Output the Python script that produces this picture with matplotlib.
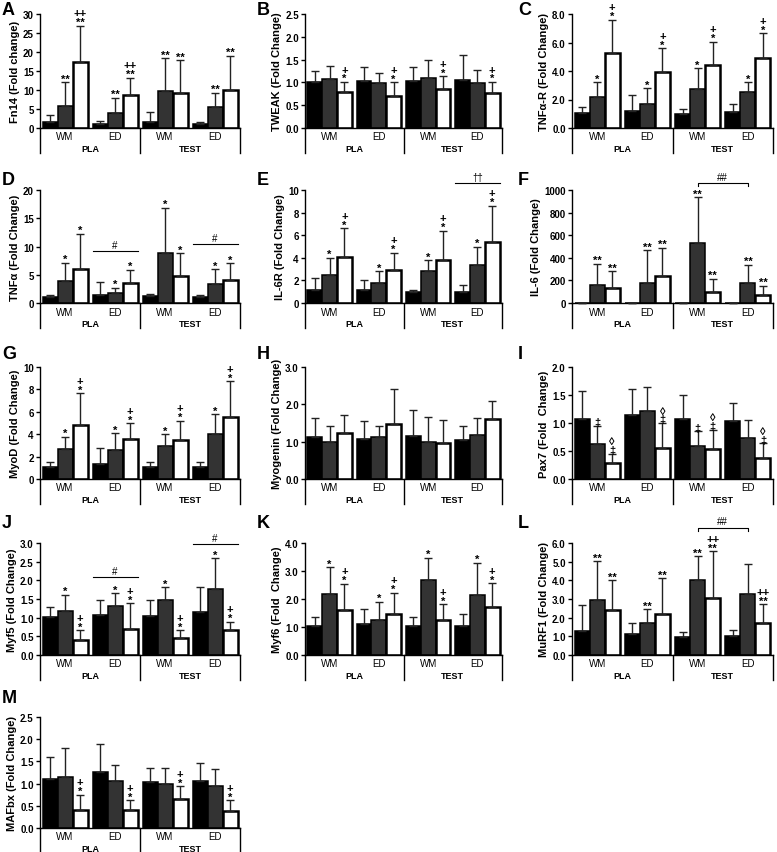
import numpy as np
import matplotlib
matplotlib.use('Agg')
import matplotlib.pyplot as plt

plt.rcParams['font.family'] = ['Liberation Sans', 'DejaVu Sans']

W, H = 777, 853

groups = ['WM', 'ED', 'WM', 'ED']
conditions = ['PLA', 'TEST']
bar_colors = ['#000000', '#333333', '#ffffff']

# means and SDs: rows = WM-PLA, ED-PLA, WM-TEST, ED-TEST; cols = 3 bars
fn14_mean = [[1.5, 5.9, 17.5], [1.06, 4.0, 8.6], [1.6, 9.7, 9.3], [1.0, 5.5, 9.9]]
fn14_sd = [[1.9, 6.2, 9.4], [0.84, 4.0, 4.6], [2.6, 8.7, 8.6], [0.6, 3.8, 9.1]]
fn14_marks = ['', '**', '++\n**', '', '**', '++\n**', '', '**', '**', '', '**', '**']

tweak_mean = [[1.0, 1.07, 0.80], [1.04, 0.98, 0.71], [1.04, 1.10, 0.86], [1.05, 0.99, 0.77]]
tweak_sd = [[0.25, 0.30, 0.21], [0.29, 0.23, 0.29], [0.29, 0.39, 0.27], [0.55, 0.29, 0.24]]
tweak_marks = ['', '', '+\n*'] * 4

tnfr_mean = [[1.05, 2.2, 5.25], [1.2, 1.7, 3.95], [1.0, 2.75, 4.45], [1.15, 2.55, 4.9]]
tnfr_sd = [[0.4, 1.0, 2.35], [1.15, 1.1, 1.65], [0.35, 1.45, 1.6], [0.55, 0.65, 1.75]]
tnfr_marks = ['', '*', '+\n*'] * 4

tnfa_mean = [[1.0, 3.9, 6.1], [1.4, 1.8, 3.5], [1.2, 8.9, 4.85], [1.0, 3.4, 4.1]]
tnfa_sd = [[0.5, 3.2, 6.2], [2.3, 0.9, 2.4], [0.45, 8.0, 3.95], [0.35, 2.6, 2.9]]
tnfa_marks = ['', '*', '*'] * 4

il6r_mean = [[1.15, 2.5, 4.1], [1.15, 1.8, 2.9], [0.95, 2.8, 3.83], [1.0, 3.4, 5.4]]
il6r_sd = [[1.05, 1.5, 2.5], [0.9, 1.0, 1.55], [0.2, 0.97, 2.57], [0.55, 1.6, 3.2]]
il6r_marks = ['', '*', '+\n*'] * 4

il6_mean = [[1, 160, 134], [1, 175, 243], [1, 534, 95], [1, 175, 74]]
il6_sd = [[0, 187, 145], [0, 290, 247], [0, 404, 119], [0, 163, 80]]
il6_marks = ['', '**', '**'] * 4

myod_mean = [[1.04, 2.64, 4.8], [1.3, 2.6, 3.56], [1.04, 2.97, 3.47], [1.04, 4.0, 5.58]]
myod_sd = [[0.51, 1.13, 2.85], [1.43, 1.5, 1.44], [0.44, 1.03, 1.73], [0.51, 1.8, 3.17]]
myod_marks = ['', '*', '+\n*'] * 4

myog_mean = [[1.12, 0.98, 1.22], [1.07, 1.12, 1.46], [1.14, 1.0, 0.97], [1.05, 1.18, 1.61]]
myog_sd = [[0.52, 0.43, 0.5], [0.48, 0.29, 0.94], [0.71, 0.67, 0.61], [0.38, 0.45, 0.48]]
myog_marks = [''] * 12

pax7_mean = [[1.07, 0.63, 0.28], [1.15, 1.21, 0.56], [1.07, 0.59, 0.53], [1.03, 0.74, 0.38]]
pax7_sd = [[0.51, 0.32, 0.17], [0.46, 0.43, 0.44], [0.43, 0.26, 0.35], [0.32, 0.32, 0.26]]
pax7_marks = ['', '\u2021', '\u25ca\n\u2021', '', '', '\u25ca\n\u2021',
              '', '\u2021', '\u25ca\n\u2021', '', '', '\u25ca\n\u2021']

myf5_mean = [[1.02, 1.18, 0.40], [1.07, 1.31, 0.70], [1.04, 1.47, 0.46], [1.15, 1.78, 0.67]]
myf5_sd = [[0.27, 0.44, 0.27], [0.4, 0.35, 0.68], [0.43, 0.34, 0.21], [0.67, 0.81, 0.22]]
myf5_marks = ['', '*', '+\n*'] * 4

myf6_mean = [[1.02, 2.19, 1.59], [1.11, 1.26, 1.47], [1.02, 2.67, 1.26], [1.02, 2.14, 1.71]]
myf6_sd = [[0.33, 0.94, 0.96], [0.55, 0.64, 0.76], [0.34, 0.81, 0.55], [0.43, 1.16, 0.86]]
myf6_marks = ['', '*', '+\n*'] * 4

murf_mean = [[1.29, 2.94, 2.4], [1.11, 1.74, 2.2], [0.99, 4.0, 3.05], [1.0, 3.27, 1.74]]
murf_sd = [[1.4, 2.09, 1.6], [0.63, 0.72, 1.9], [0.25, 1.3, 2.5], [0.32, 1.61, 0.98]]
murf_marks = ['', '**', '**', '', '**', '**', '', '**', '++\n**', '', '', '++\n**']

mafbx_mean = [[1.10, 1.15, 0.40], [1.26, 1.06, 0.40], [1.04, 1.0, 0.65], [1.05, 0.94, 0.38]]
mafbx_sd = [[0.5, 0.65, 0.35], [0.64, 0.36, 0.23], [0.31, 0.36, 0.29], [0.42, 0.39, 0.24]]
mafbx_marks = ['', '', '+\n*'] * 4

# horizontal lines over a group: (group, y, label)
tnfa_lines = [(1, 9.2, '#'), (3, 10.4, '#')]
il6r_lines = [(3, 10.6, '\u2020\u2020')]
myf5_lines = [(1, 2.09, '#'), (3, 2.97, '#')]
# brackets between gray bars: (x0, x1, y, label)
il6_bracket = (2, 3, 1059, '##')
murf_bracket = (2, 3, 6.82, '##')

panels = [
    ('A', 'Fn14 (Fold change)', fn14_mean, fn14_sd, fn14_marks, np.arange(0, 31, 5), '%d', 0, 0, [], None),
    ('B', 'TWEAK (Fold Change)', tweak_mean, tweak_sd, tweak_marks, np.arange(0, 2.51, 0.5), '%.1f', 1, 0, [], None),
    ('C', 'TNF\u03b1-R (Fold Change)', tnfr_mean, tnfr_sd, tnfr_marks, np.arange(0, 8.1, 2), '%.1f', 2, 0, [], None),
    ('D', 'TNF\u03b1 (Fold Change)', tnfa_mean, tnfa_sd, tnfa_marks, np.arange(0, 21, 5), '%d', 0, 1, tnfa_lines, None),
    ('E', 'IL-6R (Fold Change)', il6r_mean, il6r_sd, il6r_marks, np.arange(0, 11, 2), '%d', 1, 1, il6r_lines, None),
    ('F', 'IL-6 (Fold Change)', il6_mean, il6_sd, il6_marks, np.arange(0, 1001, 200), '%d', 2, 1, [], il6_bracket),
    ('G', 'MyoD (Fold Change)', myod_mean, myod_sd, myod_marks, np.arange(0, 11, 2), '%d', 0, 2, [], None),
    ('H', 'Myogenin (Fold Change)', myog_mean, myog_sd, myog_marks, np.arange(0, 3.1, 1), '%.1f', 1, 2, [], None),
    ('I', 'Pax7 (Fold  Change)', pax7_mean, pax7_sd, pax7_marks, np.arange(0, 2.01, 0.5), '%.1f', 2, 2, [], None),
    ('J', 'Myf5 (Fold Change)', myf5_mean, myf5_sd, myf5_marks, np.arange(0, 3.01, 0.5), '%.1f', 0, 3, myf5_lines, None),
    ('K', 'Myf6 (Fold  Change)', myf6_mean, myf6_sd, myf6_marks, np.arange(0, 4.1, 1), '%.1f', 1, 3, [], None),
    ('L', 'MuRF1 (Fold Change)', murf_mean, murf_sd, murf_marks, np.arange(0, 6.1, 1), '%.1f', 2, 3, [], murf_bracket),
    ('M', 'MAFbx (Fold Change)', mafbx_mean, mafbx_sd, mafbx_marks, np.arange(0, 2.51, 0.5), '%.1f', 0, 4, [], None),
]

col_x = [(40, 240), (305, 502), (572, 773)]
row_y = [(15, 129), (191, 304), (368, 480), (544, 656), (718, 829)]
letter_x = [2, 257, 518]
letter_y = [2, 172, 346, 515, 690]

fig = plt.figure(figsize=(W / 100, H / 100), dpi=100)

for letter, ylab, mean, sd, marks, ticks, fmt, c, r, lines, bracket in panels:
    x0, x1 = col_x[c]
    y0, y1 = row_y[r]
    hpx = y1 - y0
    ax = fig.add_axes([x0 / W, 1 - y1 / H, (x1 - x0) / W, hpx / H])
    mean = np.array(mean, dtype=float)
    sd = np.array(sd, dtype=float)
    ymax = ticks[-1]
    xg = np.arange(4)
    for j in range(3):
        xs = xg + (j - 1) * 0.3
        ax.bar(xs, mean[:, j], width=0.3, color=bar_colors[j], edgecolor='black',
               linewidth=1.8 if j == 2 else 1.1, zorder=2)
        ax.errorbar(xs, mean[:, j], yerr=[np.zeros(4), sd[:, j]], fmt='none',
                    ecolor='#222222', elinewidth=1.0, capsize=3, capthick=1.0, zorder=3,
                    clip_on=False)
        for g in range(4):
            m = marks[g * 3 + j]
            if m:
                ax.annotate(m, (xs[g], mean[g, j] + sd[g, j]), xytext=(0, -1),
                            textcoords='offset points', ha='center', va='bottom',
                            fontsize=8, fontweight='bold', linespacing=0.85,
                            annotation_clip=False)
    for g, yv, lab in lines:
        ax.plot([g - 0.45, g + 0.45], [yv, yv], color='black', lw=0.8, clip_on=False)
        ax.annotate(lab, (g, yv), xytext=(0, 1), textcoords='offset points',
                    ha='center', va='bottom', fontsize=7, annotation_clip=False)
    if bracket:
        bx0, bx1, by, lab = bracket
        d = 3.0 / hpx * ymax
        ax.plot([bx0, bx0, bx1, bx1], [by - d, by, by, by - d], color='black', lw=0.8,
                clip_on=False)
        ax.annotate(lab, ((bx0 + bx1) / 2, by), xytext=(0, 1), textcoords='offset points',
                    ha='center', va='bottom', fontsize=7, annotation_clip=False)

    ax.set_xlim(-0.5, 3.5)
    ax.set_ylim(0, ymax)
    ax.set_xticks([])
    ax.set_yticks(ticks)
    ax.set_yticklabels([fmt % t for t in ticks], fontweight='bold', fontsize=7)
    ax.tick_params(axis='y', direction='out', length=3, width=1, pad=1.5)
    for s in ['top', 'right']:
        ax.spines[s].set_visible(False)
    for s in ['left', 'bottom']:
        ax.spines[s].set_linewidth(1.0)
    ax.set_ylabel(ylab, fontsize=8, fontweight='bold', labelpad=2)

    trans = ax.get_xaxis_transform()
    for xv in [-0.5, 1.5, 3.5]:
        ax.plot([xv, xv], [0, -25.0 / hpx], transform=trans, color='black', lw=1.0,
                clip_on=False)
    for g, lab in enumerate(groups):
        ax.text(g, -8.5 / hpx, lab, transform=trans, ha='center', va='center', fontsize=7)
    for k, lab in enumerate(conditions):
        ax.text(0.5 + 2 * k, -20.5 / hpx, lab, transform=trans, ha='center', va='center',
                fontsize=6.5, fontweight='bold')

    fig.text(letter_x[c] / W, 1 - letter_y[r] / H, letter, fontsize=13, fontweight='bold',
             ha='left', va='top')

fig.savefig('out.png', dpi=100)
